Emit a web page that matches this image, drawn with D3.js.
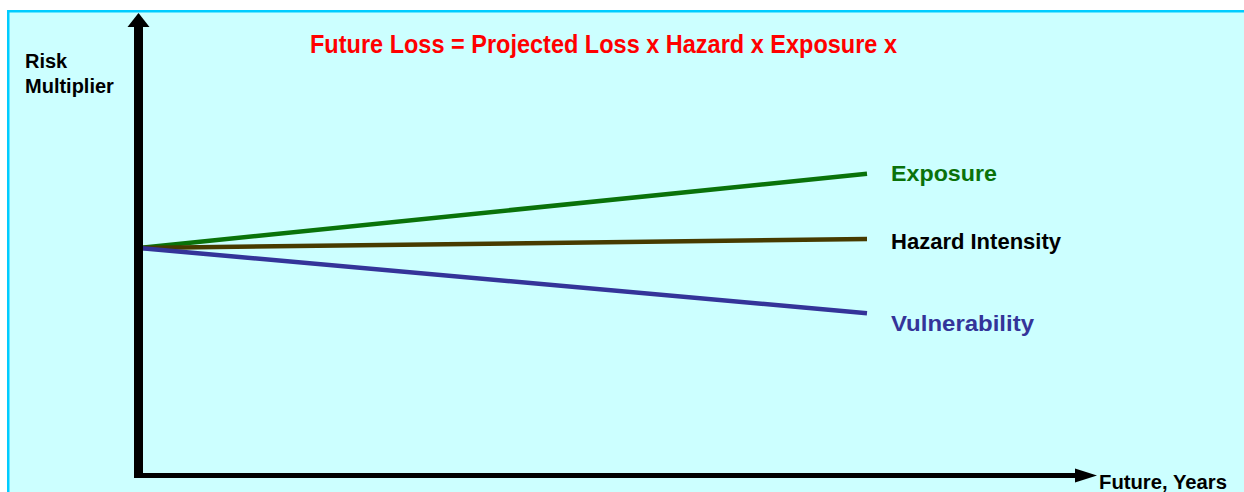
<!DOCTYPE html>
<html>
<head>
<meta charset="utf-8">
<script src="https://cdn.jsdelivr.net/npm/d3@7"></script>
<style>
  html, body { margin: 0; padding: 0; background: #ffffff; }
  svg { display: block; }
</style>
</head>
<body>
<script>
// Years ahead and risk multipliers for each driver (start at 1.0)
const years = [0, 10];
const exposure = [1.0, 1.33];
const hazard = [1.0, 1.04];
const vulnerability = [1.0, 0.71];
const seriesNames = ["Exposure", "Hazard Intensity", "Vulnerability"];
const seriesColors = ["#0a720a", "#473b00", "#343499"];
const labelColors = ["#0a720a", "#000000", "#343499"];

const W = 1244, H = 492;
const svg = d3.select("body").append("svg").attr("width", W).attr("height", H);

// panel background with cyan border on top and left
svg.append("rect").attr("x", 7).attr("y", 10).attr("width", W - 7).attr("height", H - 10)
  .attr("fill", "#ccffff");
svg.append("rect").attr("x", 7).attr("y", 10).attr("width", W - 7).attr("height", 2.5).attr("fill", "#00ccff");
svg.append("rect").attr("x", 7).attr("y", 10).attr("width", 2.5).attr("height", H - 10).attr("fill", "#00ccff");

const x = d3.scaleLinear().domain([0, 10]).range([139, 867]);
const y = d3.scaleLinear().domain([0, 2]).range([473, 23]);

// series lines
const line = d3.line().x(d => x(d[0])).y(d => y(d[1]));
const allSeries = [exposure, hazard, vulnerability];
allSeries.forEach((vals, i) => {
  svg.append("path")
    .datum(years.map((yr, j) => [yr, vals[j]]))
    .attr("d", line)
    .attr("fill", "none")
    .attr("stroke", seriesColors[i])
    .attr("stroke-width", 4.5);
});

// axes with arrowheads
const ax = x(0) - 0.5, ay = y(0) + 2.5;
svg.append("line").attr("x1", ax).attr("x2", ax).attr("y1", ay + 2).attr("y2", 26)
  .attr("stroke", "#000").attr("stroke-width", 9);
svg.append("path").attr("d", `M${ax - 11},27 L${ax},13 L${ax + 11},27 Z`).attr("fill", "#000");
svg.append("line").attr("x1", ax - 4.5).attr("x2", 1076).attr("y1", ay).attr("y2", ay)
  .attr("stroke", "#000").attr("stroke-width", 5);
svg.append("path").attr("d", `M1075,${ay - 7} L1097,${ay} L1075,${ay + 7} Z`).attr("fill", "#000");

// series labels at the line ends
const labelY = [181, 249, 331];
const labelW = [106, 170, 143];
allSeries.forEach((vals, i) => {
  svg.append("text")
    .attr("x", 891)
    .attr("y", labelY[i])
    .attr("font-family", "Liberation Sans, Arial, sans-serif")
    .attr("font-weight", "bold")
    .attr("font-size", 22.5)
    .attr("fill", labelColors[i])
    .attr("textLength", labelW[i])
    .attr("lengthAdjust", "spacingAndGlyphs")
    .text(seriesNames[i]);
});

// axis titles
const yTitle = svg.append("text")
  .attr("font-family", "Liberation Sans, Arial, sans-serif")
  .attr("font-weight", "bold").attr("font-size", 20).attr("fill", "#000");
yTitle.append("tspan").attr("x", 25).attr("y", 68).text("Risk");
yTitle.append("tspan").attr("x", 25).attr("y", 93).text("Multiplier");

svg.append("text")
  .attr("x", 1099).attr("y", 489)
  .attr("font-family", "Liberation Sans, Arial, sans-serif")
  .attr("font-weight", "bold").attr("font-size", 20).attr("fill", "#000")
  .attr("textLength", 128).attr("lengthAdjust", "spacingAndGlyphs")
  .text("Future, Years");

// headline formula
svg.append("text")
  .attr("x", 310).attr("y", 53)
  .attr("font-family", "Liberation Sans Narrow, Arial Narrow, Liberation Sans, sans-serif")
  .attr("font-weight", "bold").attr("font-size", 25).attr("fill", "#ff0000")
  .attr("textLength", 587).attr("lengthAdjust", "spacingAndGlyphs")
  .text("Future Loss = Projected Loss x Hazard x Exposure x");
</script>
</body>
</html>
